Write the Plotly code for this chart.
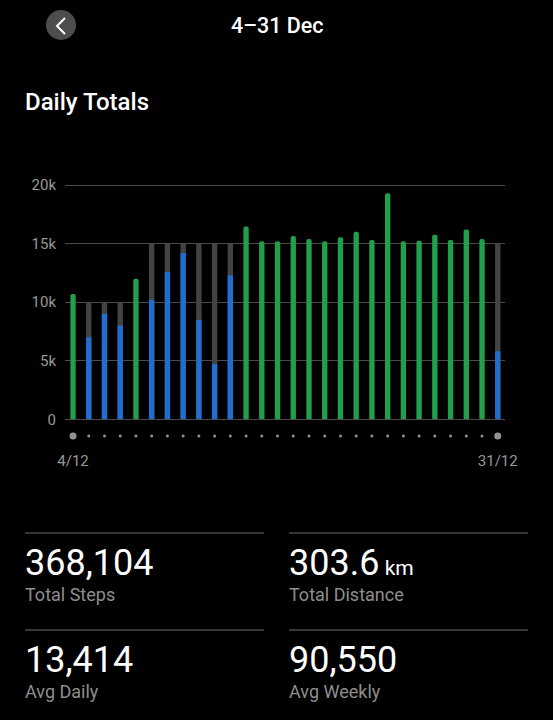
import plotly.graph_objects as go

W, H = 553, 720

days = list(range(4, 32))
steps = [10700, 7000, 9000, 8000, 12000, 10200, 12600, 14200, 8500, 4700, 12300, 16450, 15200, 15200,
         15650, 15400, 15200, 15550, 16000, 15300, 19300, 15200, 15250, 15750, 15300, 16200, 15400, 5800]
goals = [10000, 10000, 10000, 10000, 10000, 15000, 15000, 15000, 15000, 15000, 15000, 15000, 15000, 15000,
         15000, 15000, 15000, 15000, 15000, 15000, 15000, 15000, 15000, 15000, 15000, 15000, 15000, 15000]
y_ticks = [0, 5000, 10000, 15000, 20000]
y_labels = ["0", "5k", "10k", "15k", "20k"]
x_ticks = [4, 31]
x_labels = ["4/12", "31/12"]

stat_values = ["368,104", "303.6", "13,414", "90,550"]
stat_names = ["Total Steps", "Total Distance", "Avg Daily", "Avg Weekly"]

GREEN = "#20a04a"
BLUE = "#1f6fd0"
GOAL = "#434343"
GRID = "#4a4a4a"
MUTED = "#8e8e8e"
TICK = "#989898"
FONT = "Roboto"


# page pixels to paper fractions, the whole page is the paper
def fx(px):
    return px / W


def fy(py):
    return 1 - py / H


met_x = [d for d, s, g in zip(days, steps, goals) if s >= g]
met_y = [s for s, g in zip(steps, goals) if s >= g]
under_x = [d for d, s, g in zip(days, steps, goals) if s < g]
under_y = [s for s, g in zip(steps, goals) if s < g]
goal_y = [g for s, g in zip(steps, goals) if s < g]

fig = go.Figure()
fig.add_trace(go.Bar(x=under_x, y=goal_y, width=0.34, marker=dict(color=GOAL, line_width=0)))
fig.add_trace(go.Bar(x=under_x, y=under_y, width=0.34, marker=dict(color=BLUE, line_width=0, cornerradius=1)))
fig.add_trace(go.Bar(x=met_x, y=met_y, width=0.34, marker=dict(color=GREEN, line_width=0, cornerradius=3)))

# row of dots under the bars, larger at both ends
fig.add_trace(go.Scatter(
    x=days, y=[0] * len(days), mode="markers", xaxis="x2", yaxis="y2",
    marker=dict(color="#d0d0d0", size=[7 if d in x_ticks else 3 for d in days], line_width=0),
))

x_range = [3.49, 31.46]
fig.update_layout(
    width=W, height=H, autosize=False,
    margin=dict(l=0, r=0, t=0, b=0, autoexpand=False),
    paper_bgcolor="#000000", plot_bgcolor="#000000",
    barmode="overlay", showlegend=False,
    font=dict(family=FONT, color="#ffffff"),
    xaxis=dict(domain=[fx(65), fx(505)], range=x_range, showgrid=False, zeroline=False, showticklabels=False,
               ticks="", anchor="y"),
    # top of the range sits a little above 20k so its gridline is kept
    yaxis=dict(domain=[fy(419.3), fy(182.66)], range=[0, 20200], tickvals=y_ticks, ticktext=y_labels,
               gridcolor=GRID, gridwidth=1, zeroline=True, zerolinecolor=GRID, zerolinewidth=1,
               tickfont=dict(size=15, color=TICK), ticks="", ticklabelstandoff=8, anchor="x"),
    xaxis2=dict(domain=[fx(65), fx(505)], range=x_range, tickvals=x_ticks, ticktext=x_labels, showgrid=False,
                zeroline=False, ticks="", tickfont=dict(size=15, color=TICK), ticklabelstandoff=8, anchor="y2"),
    yaxis2=dict(domain=[fy(442), fy(430)], range=[-1, 1], visible=False, anchor="x2"),
)


def text(px, py, s, size, color="#ffffff", anchor="left", weight=400):
    fig.add_annotation(x=fx(px), y=fy(py), xref="paper", yref="paper", text=s, showarrow=False,
                       xanchor=anchor, yanchor="middle", borderpad=0,
                       font=dict(family=FONT, size=size, color=color, weight=weight))


text(277, 26, "4–31 Dec", 21.5, anchor="center", weight=500)
text(24, 102, "Daily Totals", 24, weight=500)

# back button
fig.add_shape(type="circle", xref="paper", yref="paper", x0=fx(46), x1=fx(76), y0=fy(40), y1=fy(10),
              fillcolor="#4d4d4d", line_width=0)
fig.add_shape(type="path", xref="paper", yref="paper", line=dict(color="#ffffff", width=2),
              path=f"M {fx(65)} {fy(18)} L {fx(57)} {fy(26)} L {fx(65)} {fy(34)}")

# stat tiles
col_x = [25, 289]
row_y = [533, 630]
for i, (value, name) in enumerate(zip(stat_values, stat_names)):
    x0 = col_x[i % 2]
    y0 = row_y[i // 2]
    fig.add_shape(type="line", xref="paper", yref="paper", x0=fx(x0), x1=fx(x0 + 239), y0=fy(y0), y1=fy(y0),
                  line=dict(color="#484848", width=1.5))
    shown = value + '<span style="font-size:21px"> km</span>' if name == "Total Distance" else value
    text(x0 - 1, y0 + 30, shown, 36)
    text(x0 - 1, y0 + 61, name, 18, color=MUTED)

fig.write_html("out.html", config={"displayModeBar": False},
               post_script="document.body.style.margin='0';document.body.style.background='#000';")
